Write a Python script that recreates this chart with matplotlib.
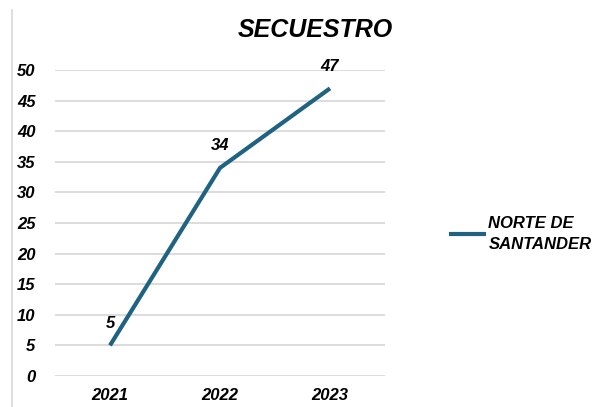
import matplotlib
matplotlib.use("Agg")
import matplotlib.pyplot as plt
from matplotlib.lines import Line2D

years = ["2021", "2022", "2023"]
values = [5, 34, 47]
series_name = "NORTE DE\nSANTANDER"
title = "SECUESTRO"
yticks = [0, 5, 10, 15, 20, 25, 30, 35, 40, 45, 50]

plt.rcParams['font.family'] = ['Liberation Sans', 'DejaVu Sans']
color = "#1F6282"

fig = plt.figure(figsize=(6.04, 4.07), dpi=100)
ax = fig.add_axes([55/604, 1-376/407, 330/604, (376-70)/407])
x = list(range(len(years)))
ax.plot(x, values, color=color, lw=3.0, solid_capstyle='butt', label=series_name)
for xi, v in zip(x, values):
    ax.annotate(str(v), (xi, v), xytext=(0, 16), textcoords='offset points',
                ha='center', va='center', fontsize=12, fontweight='bold', fontstyle='italic')
ax.set_xlim(-0.5, len(years)-0.5)
ax.set_ylim(0, 50)
ax.set_yticks(yticks)
ax.set_xticks(x)
ax.set_xticklabels(years)
for lab in ax.get_xticklabels() + ax.get_yticklabels():
    lab.set_fontsize(12)
    lab.set_fontweight('bold')
    lab.set_fontstyle('italic')
ax.tick_params(axis='y', length=0, pad=14)
ax.tick_params(axis='x', length=0, pad=9)
ax.grid(axis='y', color='#D9D9D9', lw=1.3)
ax.set_axisbelow(True)
for s in ax.spines.values():
    s.set_visible(False)

fig.text(315/604, 1-30/407, title, ha='center', va='center', fontsize=18,
         fontweight='bold', fontstyle='italic')

leg = fig.legend(loc='center left', bbox_to_anchor=(441/604, 1-234/407), frameon=False,
                 prop={'size': 12, 'weight': 'bold', 'style': 'italic'},
                 handlelength=2.2, handletextpad=0.15, borderpad=0)
for t in leg.get_texts():
    t.set_linespacing(1.45)

fig.add_artist(Line2D([12/604, 12/604], [0, 1-10/407], color='#D9D9D9', lw=1.2,
                      transform=fig.transFigure))

fig.savefig("out.png", dpi=100)
